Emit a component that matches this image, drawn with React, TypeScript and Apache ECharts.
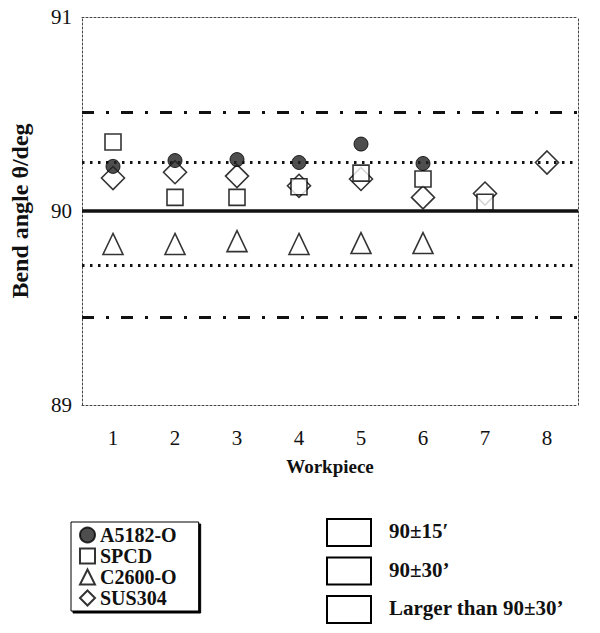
import React, { useEffect, useRef } from "react";
import * as echarts from "echarts";

const workpieces = ["1", "2", "3", "4", "5", "6", "7", "8"];
const yTicks = [89, 90, 91];

const a5182 = [90.23, 90.26, 90.265, 90.25, 90.345, 90.245, null, null];
const spcd = [90.356, 90.07, 90.07, 90.125, 90.195, 90.165, 90.045, null];
const c2600 = [89.83, 89.83, 89.845, 89.83, 89.835, 89.835, null, null];
const sus304 = [90.17, 90.2, 90.18, 90.13, 90.165, 90.07, 90.09, 90.25];

const seriesNames = ["A5182-O", "SPCD", "C2600-O", "SUS304"];

// reference lines
const nominalLine = 90.0;
const dottedLines = [90.25, 89.72];
const dashDotLines = [90.51, 89.455];

const rangeLabels = ["90±15′", "90±30’", "Larger than 90±30’"];

const SERIF = "'Liberation Serif', 'Times New Roman', serif";

export default function App() {
  const ref = useRef<HTMLDivElement>(null);

  useEffect(() => {
    if (!ref.current) return;
    const chart = echarts.init(ref.current, undefined, { renderer: "svg" });

    const frameLine = { show: true, lineStyle: { color: "#444", width: 1, type: [2, 2] } };

    const hollow = { color: "#fff", borderColor: "#000", borderWidth: 1.6 };

    const markData: any[] = [];
    dashDotLines.forEach((v) =>
      markData.push({ yAxis: v, lineStyle: { color: "#111", width: 3, type: [12, 12, 3, 12] } })
    );
    dottedLines.forEach((v) =>
      markData.push({ yAxis: v, lineStyle: { color: "#111", width: 3, type: [2.5, 5.5] } })
    );
    markData.push({ yAxis: nominalLine, lineStyle: { color: "#111", width: 3.5, type: "solid" } });

    const option: any = {
      animation: false,
      backgroundColor: "#fff",
      grid: { left: 82, right: 22, top: 17, bottom: 228 },
      xAxis: [
        {
          type: "category",
          data: workpieces,
          boundaryGap: true,
          position: "bottom",
          axisLine: frameLine,
          axisTick: { show: false },
          axisLabel: { fontFamily: SERIF, fontSize: 21, color: "#111", margin: 22 },
          name: "Workpiece",
          nameLocation: "middle",
          nameGap: 52,
          nameTextStyle: { fontFamily: SERIF, fontSize: 19, fontWeight: "bold", color: "#111" },
          splitLine: { show: false },
        },
        {
          type: "category",
          data: workpieces,
          position: "top",
          axisLine: frameLine,
          axisTick: { show: false },
          axisLabel: { show: false },
          splitLine: { show: false },
        },
      ],
      yAxis: [
        {
          type: "value",
          min: yTicks[0],
          max: yTicks[yTicks.length - 1],
          interval: 1,
          position: "left",
          axisLine: frameLine,
          axisTick: { show: false },
          splitLine: { show: false },
          axisLabel: { fontFamily: SERIF, fontSize: 21, color: "#111", margin: 10 },
          name: "Bend angle θ/deg",
          nameLocation: "middle",
          nameGap: 50,
          nameTextStyle: { fontFamily: SERIF, fontSize: 24, fontWeight: "bold", color: "#111" },
        },
        {
          type: "value",
          min: yTicks[0],
          max: yTicks[yTicks.length - 1],
          interval: 1,
          position: "right",
          axisLine: frameLine,
          axisTick: { show: false },
          splitLine: { show: false },
          axisLabel: { show: false },
        },
      ],
      legend: {
        data: seriesNames,
        orient: "vertical",
        left: 71,
        top: 522,
        padding: [3, 22, 3, 8],
        itemGap: 1,
        itemWidth: 15,
        itemHeight: 15,
        borderColor: "#000",
        borderWidth: 1,
        backgroundColor: "#fff",
        shadowColor: "#000",
        shadowOffsetX: 2,
        shadowOffsetY: 2,
        shadowBlur: 0,
        textStyle: {
          fontFamily: SERIF,
          fontSize: 20,
          lineHeight: 20,
          fontWeight: "bold",
          color: "#111",
        },
        selectedMode: false,
      },
      graphic: rangeLabels.flatMap((label, i) => {
        const y = 519 + i * 38.5;
        return [
          {
            type: "rect",
            shape: { x: 327, y, width: 44, height: 27 },
            style: { fill: "#fff", stroke: "#000", lineWidth: 2 },
          },
          {
            type: "text",
            x: 389,
            y: y + 12,
            style: {
              text: label,
              fontFamily: SERIF,
              fontSize: 21,
              fontWeight: "bold",
              fill: "#111",
              verticalAlign: "middle",
            },
          },
        ];
      }),
      series: [
        {
          type: "line",
          name: "lines",
          data: [],
          z: 1,
          silent: true,
          markLine: {
            silent: true,
            symbol: "none",
            label: { show: false },
            data: markData,
          },
        },
        {
          type: "scatter",
          name: seriesNames[0],
          data: a5182,
          symbol: "circle",
          symbolSize: 14,
          itemStyle: { color: "#222", borderColor: "#000", borderWidth: 1 },
          z: 5,
        },
        {
          type: "scatter",
          name: seriesNames[1],
          data: spcd,
          symbol: "rect",
          symbolSize: 16,
          itemStyle: hollow,
          z: 4,
        },
        {
          type: "scatter",
          name: seriesNames[2],
          data: c2600,
          symbol: "triangle",
          symbolSize: [20, 21],
          itemStyle: hollow,
          z: 4,
        },
        {
          type: "scatter",
          name: seriesNames[3],
          data: sus304,
          symbol: "diamond",
          symbolSize: 23,
          itemStyle: hollow,
          z: 3,
        },
      ],
    };

    chart.setOption(option);
    return () => chart.dispose();
  }, []);

  return (
    <div
      ref={ref}
      style={{ position: "absolute", left: 0, top: 0, width: 600, height: 633, background: "#fff" }}
    />
  );
}
